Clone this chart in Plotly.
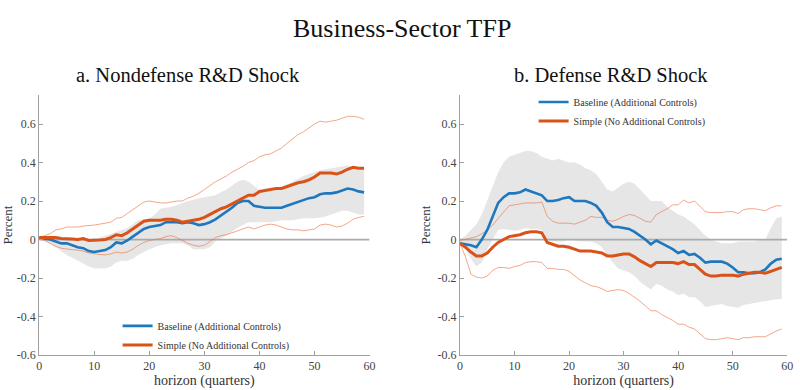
import plotly.graph_objects as go

horizon = list(range(60))

# Panel a: Nondefense R&D shock
a_base = [0.01, 0.005, 0.0, -0.01, -0.02, -0.02, -0.03, -0.04, -0.045, -0.06,
          -0.065, -0.06, -0.055, -0.04, -0.015, -0.02, -0.005, 0.015, 0.035, 0.055,
          0.065, 0.07, 0.075, 0.09, 0.09, 0.09, 0.085, 0.09, 0.085, 0.075,
          0.08, 0.09, 0.105, 0.125, 0.145, 0.165, 0.19, 0.20, 0.20, 0.175,
          0.17, 0.165, 0.165, 0.165, 0.165, 0.175, 0.185, 0.195, 0.205, 0.215,
          0.22, 0.235, 0.24, 0.24, 0.245, 0.255, 0.265, 0.26, 0.25, 0.245]
a_base_lo = [0.0, -0.01, -0.02, -0.04, -0.06, -0.08, -0.095, -0.11, -0.125, -0.14,
             -0.15, -0.15, -0.15, -0.14, -0.12, -0.11, -0.11, -0.10, -0.08, -0.065,
             -0.05, -0.04, -0.03, -0.025, -0.02, -0.02, -0.02, -0.03, -0.05, -0.05,
             -0.05, -0.04, -0.01, 0.005, 0.02, 0.04, 0.06, 0.075, 0.09, 0.09,
             0.09, 0.09, 0.09, 0.095, 0.10, 0.10, 0.10, 0.105, 0.11, 0.11,
             0.11, 0.115, 0.12, 0.13, 0.14, 0.15, 0.15, 0.14, 0.13, 0.13]
a_base_hi = [0.01, 0.01, 0.01, 0.005, 0.0, 0.0, 0.0, 0.0, 0.0, 0.0,
             0.005, 0.01, 0.02, 0.03, 0.04, 0.05, 0.06, 0.08, 0.10, 0.105,
             0.11, 0.13, 0.16, 0.165, 0.17, 0.18, 0.19, 0.20, 0.205, 0.215,
             0.22, 0.225, 0.23, 0.245, 0.26, 0.28, 0.30, 0.31, 0.30, 0.28,
             0.255, 0.25, 0.255, 0.26, 0.27, 0.285, 0.30, 0.315, 0.33, 0.34,
             0.35, 0.36, 0.365, 0.37, 0.375, 0.38, 0.385, 0.38, 0.37, 0.36]
a_simple = [0.01, 0.01, 0.01, 0.01, 0.005, 0.005, 0.003, 0.0, 0.005, -0.005,
            -0.005, -0.003, 0.0, 0.01, 0.025, 0.02, 0.035, 0.055, 0.075, 0.095,
            0.10, 0.10, 0.10, 0.105, 0.105, 0.10, 0.09, 0.095, 0.10, 0.105,
            0.115, 0.13, 0.145, 0.16, 0.17, 0.185, 0.20, 0.215, 0.23, 0.23,
            0.25, 0.255, 0.26, 0.265, 0.265, 0.275, 0.285, 0.295, 0.30, 0.31,
            0.325, 0.345, 0.345, 0.345, 0.34, 0.35, 0.365, 0.375, 0.37, 0.37]
a_simple_lo = [0.005, -0.005, -0.02, -0.035, -0.045, -0.05, -0.053, -0.055, -0.06, -0.07,
               -0.075, -0.078, -0.08, -0.075, -0.065, -0.07, -0.065, -0.05, -0.03, -0.015,
               -0.005, 0.0, 0.005, 0.015, 0.02, 0.01, -0.005, -0.02, -0.03, -0.035,
               -0.03, -0.01, 0.01, 0.02, 0.025, 0.035, 0.045, 0.055, 0.065, 0.055,
               0.065, 0.075, 0.08, 0.075, 0.065, 0.055, 0.05, 0.05, 0.045, 0.05,
               0.055, 0.075, 0.08, 0.075, 0.065, 0.07, 0.085, 0.105, 0.115, 0.12]
a_simple_hi = [0.01, 0.02, 0.03, 0.05, 0.055, 0.065, 0.065, 0.065, 0.07, 0.072,
               0.075, 0.08, 0.085, 0.09, 0.11, 0.115, 0.135, 0.155, 0.175, 0.195,
               0.20, 0.195, 0.19, 0.19, 0.195, 0.20, 0.20, 0.215, 0.225, 0.24,
               0.26, 0.28, 0.30, 0.315, 0.33, 0.35, 0.365, 0.38, 0.40, 0.41,
               0.43, 0.44, 0.445, 0.46, 0.475, 0.50, 0.525, 0.545, 0.56, 0.58,
               0.60, 0.615, 0.61, 0.615, 0.62, 0.63, 0.64, 0.64, 0.635, 0.625]

# Panel b: Defense R&D shock
b_base = [-0.02, -0.025, -0.03, -0.04, 0.0, 0.05, 0.12, 0.19, 0.22, 0.24,
          0.24, 0.245, 0.26, 0.25, 0.24, 0.23, 0.20, 0.20, 0.205, 0.215,
          0.22, 0.20, 0.20, 0.20, 0.19, 0.175, 0.14, 0.09, 0.065, 0.065,
          0.06, 0.055, 0.04, 0.02, 0.0, -0.025, -0.005, -0.02, -0.035, -0.05,
          -0.07, -0.06, -0.08, -0.075, -0.095, -0.12, -0.115, -0.115, -0.115, -0.125,
          -0.145, -0.17, -0.17, -0.175, -0.175, -0.17, -0.155, -0.125, -0.105, -0.10]
b_base_lo = [-0.02, -0.05, -0.10, -0.14, -0.12, -0.05, 0.0, 0.05, 0.055, 0.05,
             0.045, 0.05, 0.06, 0.055, 0.055, 0.05, 0.0, -0.01, -0.01, -0.01,
             0.0, -0.005, -0.01, -0.01, -0.01, -0.02, -0.04, -0.08, -0.12, -0.15,
             -0.16, -0.17, -0.19, -0.22, -0.24, -0.26, -0.23, -0.24, -0.26, -0.27,
             -0.29, -0.28, -0.30, -0.30, -0.32, -0.35, -0.345, -0.34, -0.335, -0.345,
             -0.35, -0.355, -0.34, -0.335, -0.33, -0.325, -0.32, -0.315, -0.31, -0.31]
b_base_hi = [0.0, 0.02, 0.05, 0.08, 0.13, 0.20, 0.28, 0.35, 0.40, 0.43,
             0.44, 0.45, 0.46, 0.46, 0.45, 0.43, 0.42, 0.41, 0.42, 0.41,
             0.40, 0.40, 0.39, 0.37, 0.36, 0.34, 0.30, 0.26, 0.25, 0.27,
             0.29, 0.30, 0.29, 0.26, 0.23, 0.20, 0.20, 0.20, 0.17, 0.15,
             0.13, 0.12, 0.10, 0.08, 0.05, 0.02, 0.0, -0.01, -0.02, -0.02,
             -0.02, -0.01, -0.01, -0.01, -0.01, 0.0, 0.0, 0.06, 0.11, 0.12]
b_simple = [-0.02, -0.04, -0.065, -0.085, -0.085, -0.07, -0.04, -0.015, 0.0, 0.015,
            0.02, 0.025, 0.035, 0.04, 0.04, 0.035, -0.015, -0.025, -0.035, -0.035,
            -0.04, -0.05, -0.06, -0.06, -0.06, -0.065, -0.07, -0.085, -0.085, -0.08,
            -0.075, -0.075, -0.09, -0.11, -0.125, -0.14, -0.12, -0.12, -0.12, -0.12,
            -0.125, -0.115, -0.13, -0.13, -0.155, -0.18, -0.19, -0.19, -0.185, -0.185,
            -0.185, -0.19, -0.18, -0.175, -0.17, -0.17, -0.175, -0.165, -0.155, -0.145]
b_simple_lo = [-0.02, -0.09, -0.18, -0.195, -0.20, -0.19, -0.16, -0.145, -0.145, -0.15,
               -0.14, -0.135, -0.12, -0.115, -0.115, -0.12, -0.15, -0.15, -0.155, -0.155,
               -0.165, -0.19, -0.21, -0.225, -0.24, -0.245, -0.255, -0.27, -0.265, -0.26,
               -0.265, -0.28, -0.30, -0.32, -0.345, -0.37, -0.37, -0.39, -0.405, -0.42,
               -0.44, -0.44, -0.455, -0.465, -0.49, -0.515, -0.52, -0.52, -0.515, -0.51,
               -0.515, -0.52, -0.51, -0.51, -0.505, -0.505, -0.505, -0.49, -0.475, -0.465]
b_simple_hi = [-0.005, 0.0, 0.008, 0.015, 0.03, 0.05, 0.075, 0.11, 0.14, 0.175,
               0.18, 0.185, 0.19, 0.19, 0.19, 0.195, 0.12, 0.095, 0.085, 0.085,
               0.085, 0.08, 0.09, 0.10, 0.12, 0.115, 0.115, 0.10, 0.095, 0.105,
               0.12, 0.13, 0.125, 0.11, 0.095, 0.09, 0.13, 0.145, 0.16, 0.18,
               0.18, 0.205, 0.19, 0.20, 0.17, 0.145, 0.14, 0.14, 0.14, 0.145,
               0.145, 0.135, 0.155, 0.16, 0.16, 0.155, 0.15, 0.165, 0.175, 0.175]

x_ticks = [0, 10, 20, 30, 40, 50, 60]
y_ticks = [-0.6, -0.4, -0.2, 0, 0.2, 0.4, 0.6]
y_tick_labels = ["-0.6", "-0.4", "-0.2", "0", "0.2", "0.4", "0.6"]

title_text = "Business-Sector TFP"
panel_titles = ["a. Nondefense R&D Shock", "b. Defense R&D Shock"]
series_names = ["Baseline (Additional Controls)", "Simple (No Additional Controls)"]

BLUE = "#1f77bd"
ORANGE = "#d95319"
LIGHT_ORANGE = "rgba(235,120,80,0.65)"
BAND = "#e6e6e6"
AXIS_GRAY = "#a0a0a0"
FONT = "Times New Roman, Liberation Serif, DejaVu Serif, serif"

fig = go.Figure()

panels = [
    ("x", "y", "legend", a_base, a_base_lo, a_base_hi, a_simple, a_simple_lo, a_simple_hi),
    ("x2", "y2", "legend2", b_base, b_base_lo, b_base_hi, b_simple, b_simple_lo, b_simple_hi),
]

for xa, ya, leg, base, blo, bhi, simp, slo, shi in panels:
    fig.add_trace(go.Scatter(x=horizon, y=blo, xaxis=xa, yaxis=ya, mode="lines",
                             line=dict(width=0, color=BAND), showlegend=False,
                             hoverinfo="skip"))
    fig.add_trace(go.Scatter(x=horizon, y=bhi, xaxis=xa, yaxis=ya, mode="lines",
                             line=dict(width=0, color=BAND), fill="tonexty",
                             fillcolor=BAND, showlegend=False, hoverinfo="skip"))
    fig.add_trace(go.Scatter(x=[0, 60], y=[0, 0], xaxis=xa, yaxis=ya, mode="lines",
                             line=dict(width=1.7, color="#aaaaaa"), showlegend=False,
                             hoverinfo="skip"))
    fig.add_trace(go.Scatter(x=horizon, y=slo, xaxis=xa, yaxis=ya, mode="lines",
                             line=dict(width=1, color=LIGHT_ORANGE), showlegend=False))
    fig.add_trace(go.Scatter(x=horizon, y=shi, xaxis=xa, yaxis=ya, mode="lines",
                             line=dict(width=1, color=LIGHT_ORANGE), showlegend=False))
    fig.add_trace(go.Scatter(x=horizon, y=base, xaxis=xa, yaxis=ya, mode="lines",
                             line=dict(width=2.6, color=BLUE), name=series_names[0],
                             legend=leg))
    fig.add_trace(go.Scatter(x=horizon, y=simp, xaxis=xa, yaxis=ya, mode="lines",
                             line=dict(width=3, color=ORANGE), name=series_names[1],
                             legend=leg))

xcommon = dict(range=[0, 60], tickvals=x_ticks, ticks="inside", ticklen=4,
               tickcolor=AXIS_GRAY, showline=True, linecolor=AXIS_GRAY, linewidth=1,
               showgrid=False, zeroline=False, automargin=False,
               tickfont=dict(family=FONT, size=12, color="#444"),
               title=dict(text="horizon (quarters)", font=dict(family=FONT, size=14, color="#333"),
                          standoff=0))
ycommon = dict(range=[-0.6, 0.75], tickvals=y_ticks, ticktext=y_tick_labels,
               ticks="inside", ticklen=4, tickcolor=AXIS_GRAY, showline=True,
               linecolor=AXIS_GRAY, linewidth=1, showgrid=False, zeroline=False,
               automargin=False,
               tickfont=dict(family=FONT, size=12, color="#444"),
               title=dict(text="Percent", font=dict(family=FONT, size=13, color="#333"),
                          standoff=4))

fig.update_layout(
    width=800, height=390,
    margin=dict(l=0, r=0, t=0, b=0, autoexpand=False),
    paper_bgcolor="white", plot_bgcolor="white",
    font=dict(family=FONT, color="#222"),
    xaxis=dict(domain=[0.049, 0.462], anchor="y", **xcommon),
    yaxis=dict(domain=[0.0897, 0.756], anchor="x", **ycommon),
    xaxis2=dict(domain=[0.575, 0.984], anchor="y2", **xcommon),
    yaxis2=dict(domain=[0.0897, 0.756], anchor="x2", **ycommon),
    legend=dict(x=0.147, y=0.14, xanchor="left", yanchor="middle", traceorder="normal",
                bgcolor="rgba(0,0,0,0)", font=dict(family=FONT, size=10, color="#333"),
                tracegroupgap=0, itemwidth=30),
    legend2=dict(x=0.667, y=0.714, xanchor="left", yanchor="middle", traceorder="normal",
                 bgcolor="rgba(0,0,0,0)", font=dict(family=FONT, size=10, color="#333"),
                 tracegroupgap=0, itemwidth=30),
    annotations=[
        dict(text=title_text, x=0.503, y=0.928, xref="paper", yref="paper",
             showarrow=False, font=dict(family=FONT, size=26, color="#111"),
             xanchor="center", yanchor="middle"),
        dict(text=panel_titles[0], x=0.235, y=0.808, xref="paper", yref="paper",
             showarrow=False, font=dict(family=FONT, size=20.5, color="#111"),
             xanchor="center", yanchor="middle"),
        dict(text=panel_titles[1], x=0.764, y=0.808, xref="paper", yref="paper",
             showarrow=False, font=dict(family=FONT, size=20.5, color="#111"),
             xanchor="center", yanchor="middle"),
    ],
)

fig.write_html("out.html", config={"displayModeBar": False},
               post_script="document.body.style.margin='0';")
